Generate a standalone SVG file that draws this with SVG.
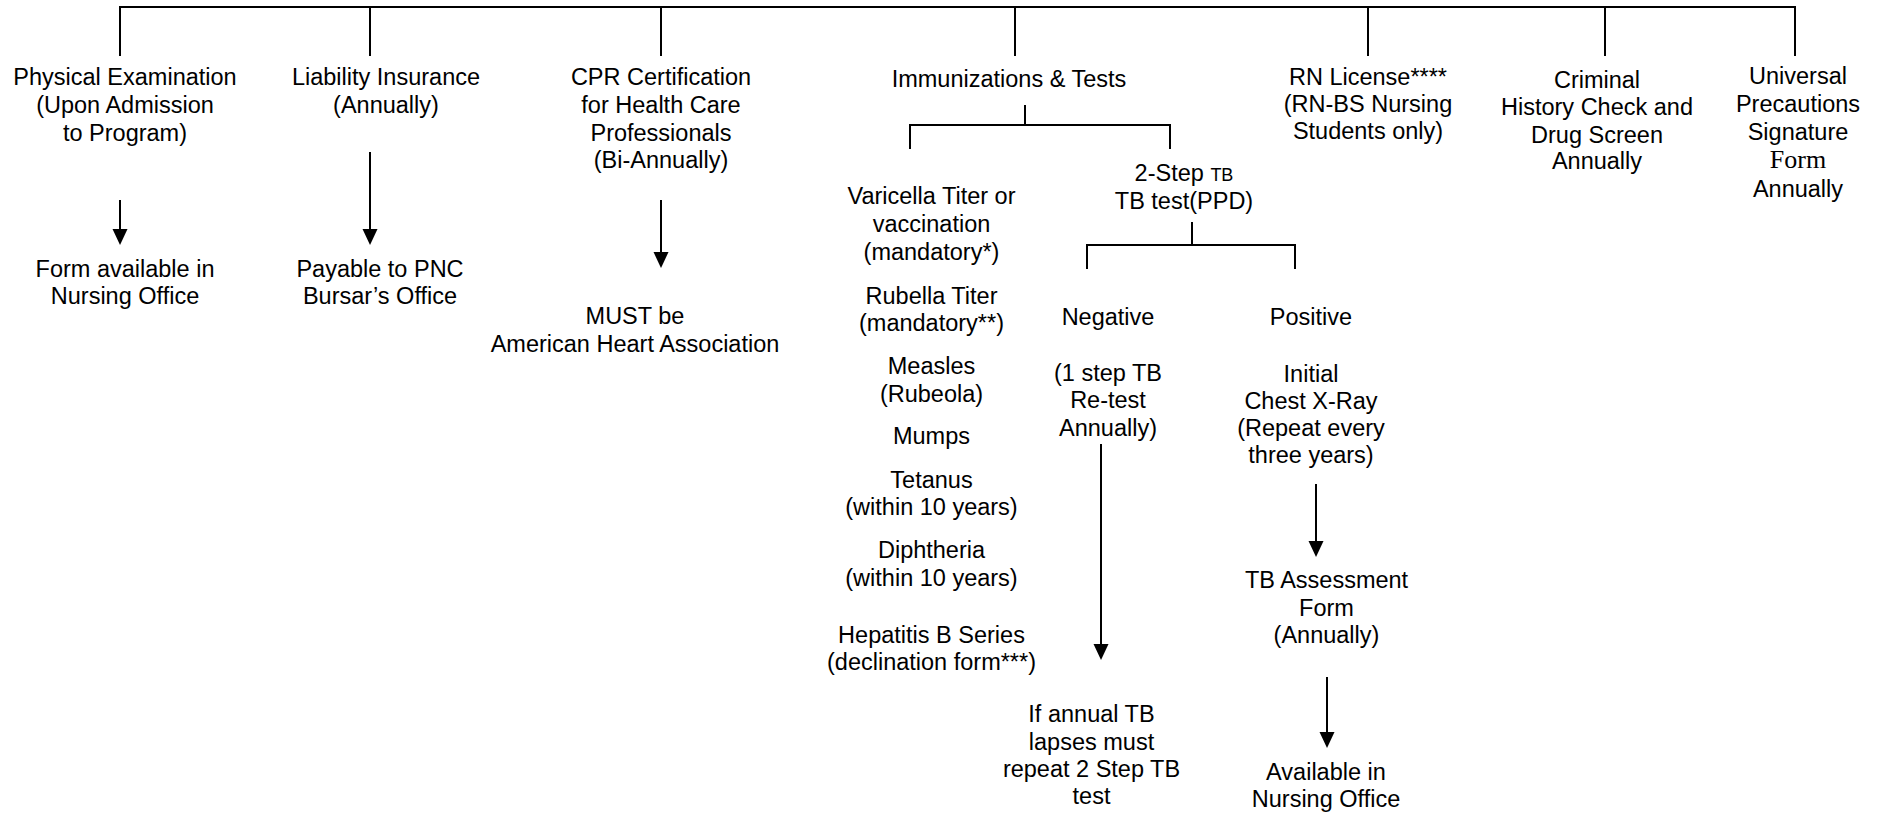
<svg xmlns="http://www.w3.org/2000/svg" width="1878" height="814" viewBox="0 0 1878 814">
<style>
  text { font-family: "Liberation Sans", Arial, sans-serif; font-size: 23.5px; fill: #000; text-anchor: middle; }
  .serif { font-family: "Liberation Serif", "Times New Roman", serif; font-size: 26px; }
  .small { font-size: 18px; }
  .ln { fill: none; stroke: #000; stroke-width: 2; }
  .arr { fill: none; stroke: #000; stroke-width: 2; marker-end: url(#ah); }
</style>
<defs>
  <marker id="ah" markerUnits="userSpaceOnUse" markerWidth="16" markerHeight="16" refX="0" refY="7.5" orient="auto" viewBox="0 0 16 15">
    <path d="M0,0 L16,7.5 L0,15 Z" fill="#000"/>
  </marker>
</defs>
<rect width="1878" height="814" fill="#fff"/>

<g id="connectors">
  <path class="ln" d="M120,56 V7 H1795 V56"/>
  <path class="ln" d="M370,7 V56 M661,7 V56 M1015,7 V56 M1368,7 V56 M1605,7 V56"/>
  <path class="ln" d="M1025,105 V125 M910,149 V125 H1170 V149"/>
  <path class="ln" d="M1192,222 V245 M1087,269 V245 H1295 V269"/>
  <path class="arr" d="M120,200 V229"/>
  <path class="arr" d="M370,152 V229"/>
  <path class="arr" d="M661,200 V252"/>
  <path class="arr" d="M1101,444 V644"/>
  <path class="arr" d="M1316,484 V541"/>
  <path class="arr" d="M1327,677 V732"/>
</g>

<g id="physical">
  <text x="125" y="85">Physical Examination</text>
  <text x="125" y="113">(Upon Admission</text>
  <text x="125" y="141">to Program)</text>
</g>
<g id="physical-form">
  <text x="125" y="277">Form available in</text>
  <text x="125" y="304">Nursing Office</text>
</g>

<g id="liability">
  <text x="386" y="85">Liability Insurance</text>
  <text x="386" y="113">(Annually)</text>
</g>
<g id="payable">
  <text x="380" y="277">Payable to PNC</text>
  <text x="380" y="304">Bursar’s Office</text>
</g>

<g id="cpr">
  <text x="661" y="85">CPR Certification</text>
  <text x="661" y="113">for Health Care</text>
  <text x="661" y="141">Professionals</text>
  <text x="661" y="168">(Bi-Annually)</text>
</g>
<g id="aha">
  <text x="635" y="324">MUST be</text>
  <text x="635" y="352">American Heart Association</text>
</g>

<g id="immunizations">
  <text x="1009" y="87">Immunizations &amp; Tests</text>
</g>
<g id="immunization-list">
  <text x="931.5" y="204">Varicella Titer or</text>
  <text x="931.5" y="232">vaccination</text>
  <text x="931.5" y="260">(mandatory*)</text>
  <text x="931.5" y="304">Rubella Titer</text>
  <text x="931.5" y="331">(mandatory**)</text>
  <text x="931.5" y="374">Measles</text>
  <text x="931.5" y="402">(Rubeola)</text>
  <text x="931.5" y="444">Mumps</text>
  <text x="931.5" y="488">Tetanus</text>
  <text x="931.5" y="515">(within 10 years)</text>
  <text x="931.5" y="558">Diphtheria</text>
  <text x="931.5" y="586">(within 10 years)</text>
  <text x="931.5" y="643">Hepatitis B Series</text>
  <text x="931.5" y="670">(declination form***)</text>
</g>

<g id="two-step">
  <text x="1184" y="181">2-Step <tspan class="small">TB</tspan></text>
  <text x="1184" y="209">TB test(PPD)</text>
</g>

<g id="negative">
  <text x="1108" y="325">Negative</text>
</g>
<g id="negative-retest">
  <text x="1108" y="381">(1 step TB</text>
  <text x="1108" y="408">Re-test</text>
  <text x="1108" y="436">Annually)</text>
</g>
<g id="negative-lapse">
  <text x="1091.5" y="722">If annual TB</text>
  <text x="1091.5" y="750">lapses must</text>
  <text x="1091.5" y="777">repeat 2 Step TB</text>
  <text x="1091.5" y="804">test</text>
</g>

<g id="positive">
  <text x="1311" y="325">Positive</text>
</g>
<g id="positive-xray">
  <text x="1311" y="382">Initial</text>
  <text x="1311" y="409">Chest X-Ray</text>
  <text x="1311" y="436">(Repeat every</text>
  <text x="1311" y="463">three years)</text>
</g>
<g id="tb-assessment">
  <text x="1326.5" y="588">TB Assessment</text>
  <text x="1326.5" y="616">Form</text>
  <text x="1326.5" y="643">(Annually)</text>
</g>
<g id="available">
  <text x="1326" y="780">Available in</text>
  <text x="1326" y="807">Nursing Office</text>
</g>

<g id="rn-license">
  <text x="1368" y="85">RN License****</text>
  <text x="1368" y="112">(RN-BS Nursing</text>
  <text x="1368" y="139">Students only)</text>
</g>

<g id="criminal">
  <text x="1597" y="88">Criminal</text>
  <text x="1597" y="115">History Check and</text>
  <text x="1597" y="143">Drug Screen</text>
  <text x="1597" y="169">Annually</text>
</g>

<g id="universal">
  <text x="1798" y="84">Universal</text>
  <text x="1798" y="112">Precautions</text>
  <text x="1798" y="140">Signature</text>
  <text class="serif" x="1798" y="168">Form</text>
  <text x="1798" y="197">Annually</text>
</g>
</svg>
